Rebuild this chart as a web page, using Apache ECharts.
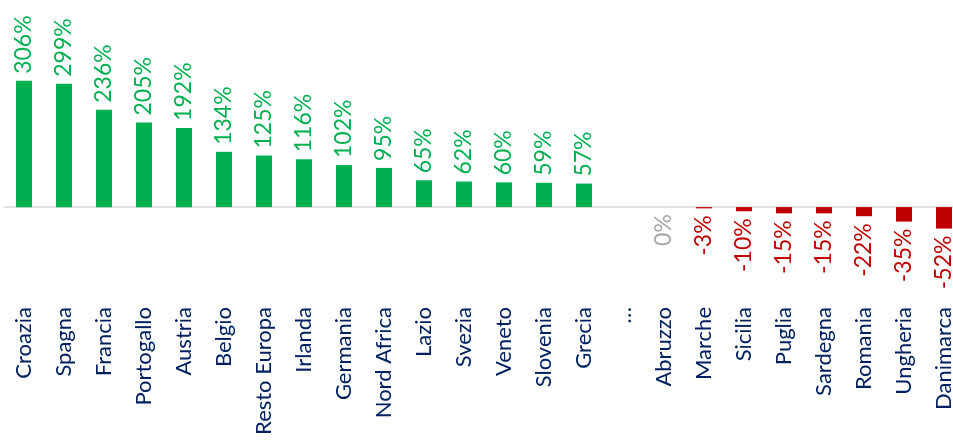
<!DOCTYPE html>
<html><head><meta charset="utf-8">
<script src="https://cdn.jsdelivr.net/npm/echarts@6/dist/echarts.min.js"></script>
<style>html,body{margin:0;padding:0;background:#fff}#c{width:953px;height:440px}</style>
</head><body><div id="c"></div>
<script>
const categories = ['Croazia','Spagna','Francia','Portogallo','Austria','Belgio','Resto Europa','Irlanda','Germania','Nord Africa','Lazio','Svezia','Veneto','Slovenia','Grecia','…','Abruzzo','Marche','Sicilia','Puglia','Sardegna','Romania','Ungheria','Danimarca'];
const values = [306,299,236,205,192,134,125,116,102,95,65,62,60,59,57,null,0,-3,-10,-15,-15,-22,-35,-52];

const GREEN = '#00B050', RED = '#C00000', GREY = '#A6A6A6', NAVY = '#002060';
const FONT = 'Lato';

const data = values.map(v => {
  if (v === null) return {value: null};
  const col = v > 0 ? GREEN : (v < 0 ? RED : GREY);
  return {
    value: v,
    itemStyle: {color: col},
    label: {
      show: true,
      color: col,
      position: v > 0 ? 'top' : 'bottom',
      align: v > 0 ? 'left' : 'right',
      verticalAlign: 'middle',
      rotate: 90,
      distance: 7
    }
  };
});

const chart = echarts.init(document.getElementById('c'), null, {renderer: 'canvas'});
chart.setOption({
  animation: false,
  grid: {left: 4, width: 960, top: 73, bottom: 140, containLabel: false, outerBoundsMode: 'none'},
  xAxis: [
    {type: 'category', data: categories, position: 'bottom',
     axisLine: {show: true, onZero: true, lineStyle: {color: '#D9D9D9', width: 1.5}},
     axisTick: {show: false}, axisLabel: {show: false}},
    {type: 'category', data: categories, position: 'bottom',
     axisLine: {show: false, onZero: false}, axisTick: {show: false},
     axisLabel: {interval: 0, rotate: 90, margin: 7, color: NAVY, fontFamily: FONT, fontSize: 22}}
  ],
  yAxis: {type: 'value', min: -225, max: 325, show: false, splitLine: {show: false}},
  series: [{
    type: 'bar', xAxisIndex: 0, barWidth: 16, data: data,
    label: {fontFamily: FONT, fontSize: 23, formatter: p => p.value + '%'}
  }]
});
</script></body></html>
